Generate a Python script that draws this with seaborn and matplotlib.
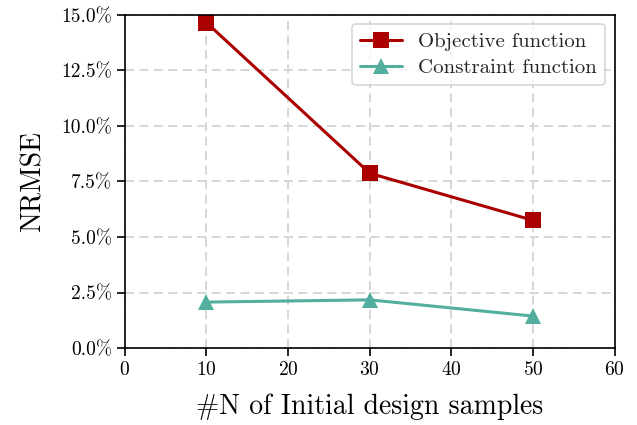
import matplotlib
matplotlib.use("Agg")
import matplotlib.pyplot as plt
import seaborn as sns
import pandas as pd
from matplotlib.ticker import PercentFormatter, MultipleLocator

# Number of initial design samples and resulting NRMSE (%)
samples = [10, 30, 50]
objective_nrmse = [14.65, 7.87, 5.75]
constraint_nrmse = [2.07, 2.17, 1.44]

sns.set_theme(style="ticks")
plt.rcParams.update({
    "font.family": "serif",
    "font.serif": ["cmr10"],
    "mathtext.fontset": "cm",
    "axes.formatter.use_mathtext": True,
    "axes.unicode_minus": False,
})

df = pd.DataFrame({
    "samples": samples * 2,
    "nrmse": objective_nrmse + constraint_nrmse,
    "series": ["Objective function"] * 3 + ["Constraint function"] * 3,
})

fig = plt.figure(figsize=(6.37, 4.25), dpi=100)
ax = fig.add_axes([0.196, 0.181, 0.769, 0.784])

palette = {"Objective function": "#AA0000", "Constraint function": "#52AE9F"}
markers = {"Objective function": "s", "Constraint function": "^"}
sns.lineplot(data=df, x="samples", y="nrmse", hue="series", style="series",
             palette=palette, markers=markers, dashes=False,
             markersize=12, markeredgewidth=0, linewidth=2.2, ax=ax)

ax.set_xlim(0, 60)
ax.set_ylim(0, 15)
ax.xaxis.set_major_locator(MultipleLocator(10))
ax.yaxis.set_major_locator(MultipleLocator(2.5))
ax.yaxis.set_major_formatter(PercentFormatter(decimals=1))

ax.grid(True, linestyle=(0, (5, 3)), color="#d3d3d3", linewidth=1.3)
ax.set_axisbelow(True)
for s in ax.spines.values():
    s.set_color("black")
    s.set_linewidth(1.2)
ax.tick_params(axis="both", direction="out", length=5.5, width=1.2,
               labelsize=14, color="black", labelcolor="black")

ax.set_xlabel("#N of Initial design samples", fontsize=20, color="black",
              labelpad=11)
ax.set_ylabel("NRMSE", fontsize=20, color="black", labelpad=11)

leg = ax.legend(loc="upper right", fontsize=15, frameon=True, fancybox=True,
                handlelength=2.0, borderpad=0.4, labelspacing=0.35,
                borderaxespad=0.45)
leg.get_frame().set_edgecolor("#cccccc")
leg.get_frame().set_linewidth(1.2)
leg.set_title(None)

fig.savefig("out.png", dpi=100)
